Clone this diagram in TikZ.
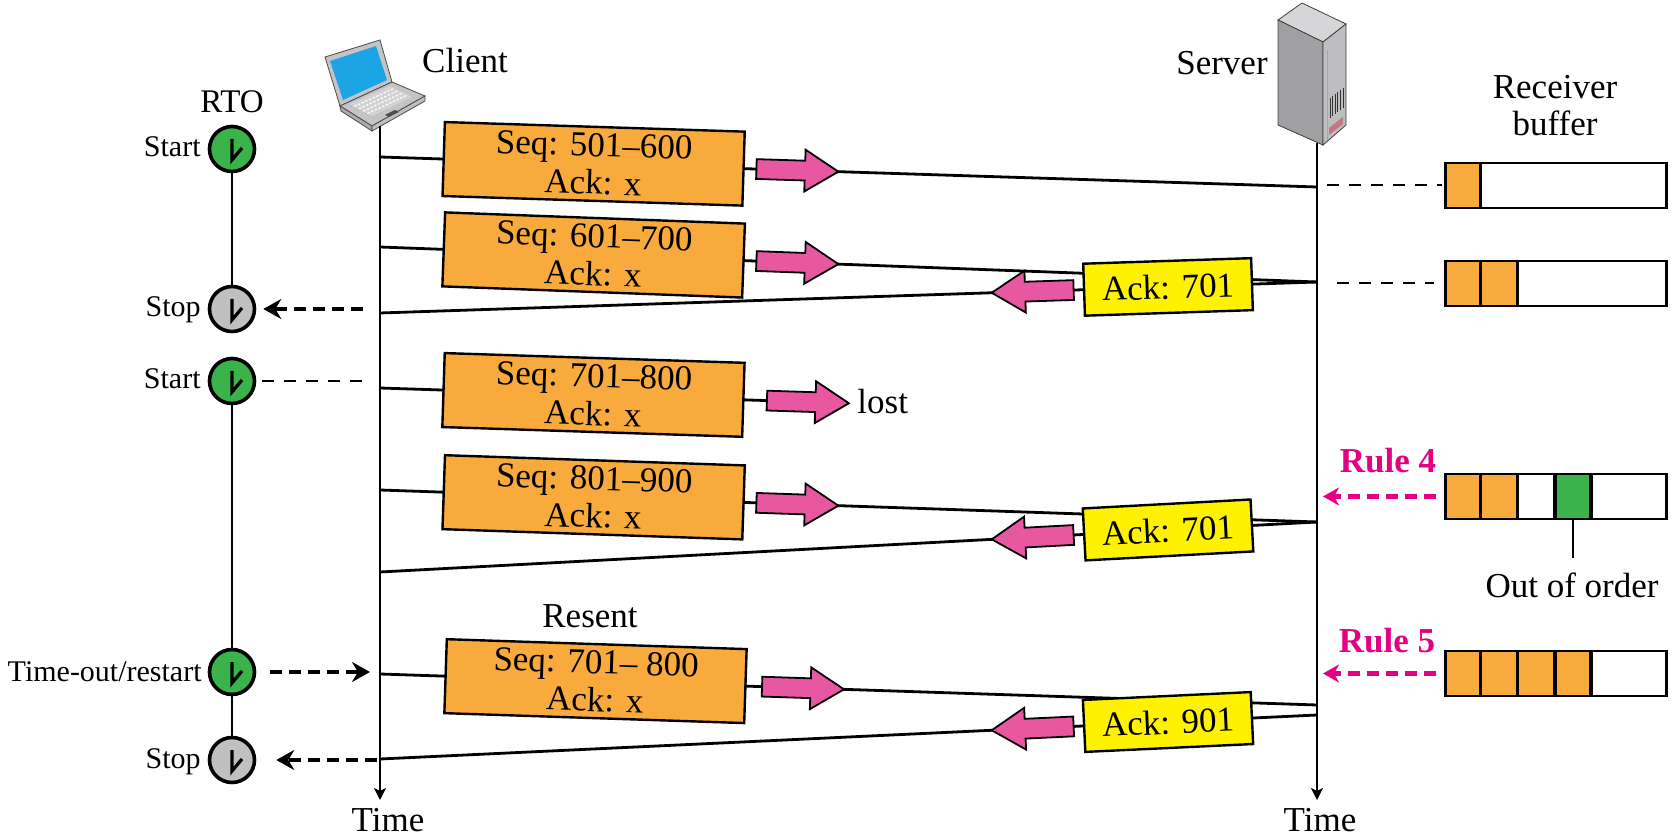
\documentclass[tikz,border=0pt]{standalone}
\usepackage{fontspec}
\setmainfont{Liberation Serif}
\usetikzlibrary{arrows.meta,shapes.arrows,calc}

\definecolor{segorange}{RGB}{248,170,60}
\definecolor{ackyellow}{RGB}{255,242,0}
\definecolor{arrowpink}{RGB}{232,88,162}
\definecolor{rulemag}{RGB}{228,0,130}
\definecolor{clockgreen}{RGB}{58,180,74}
\definecolor{clockgray}{RGB}{192,192,194}
\definecolor{screenblue}{RGB}{28,165,228}
\definecolor{lapgray}{RGB}{196,196,198}
\definecolor{srvtop}{RGB}{214,214,216}
\definecolor{srvside}{RGB}{160,160,163}
\definecolor{srvfront}{RGB}{190,190,192}
\definecolor{srvred}{RGB}{196,120,132}

\newcommand\bigtext{\fontsize{17.5}{19}\selectfont}
\newcommand\midtext{\fontsize{16.5}{18}\selectfont}
\newcommand\smalltext{\fontsize{15}{17}\selectfont}

\begin{document}
\begin{tikzpicture}[x=0.5pt,y=-0.5pt,
  wire/.style={line width=1.4pt},
  timeline/.style={line width=1.4pt,-{Stealth[length=6pt,width=6pt,inset=1.5pt]}},
  databox/.style={draw,line width=1.2pt,fill=segorange,minimum width=150pt,
    minimum height=37pt,align=center,inner sep=0pt,font=\bigtext},
  ackbox/.style={draw,line width=1.2pt,fill=ackyellow,minimum width=84pt,
    minimum height=26pt,inner sep=0pt,font=\bigtext},
  pinkarrow/.style={single arrow,draw,line width=0.9pt,fill=arrowpink,
    minimum height=41pt,single arrow head extend=5.5pt,
    single arrow tip angle=64,inner sep=0pt,inner ysep=4.5pt},
  clockhands/.style={path picture={
    \draw[line width=1.6pt,line join=miter]
      ($(path picture bounding box.center)+(0pt,5pt)$) --
      ($(path picture bounding box.center)+(0pt,-5.5pt)$) --
      ($(path picture bounding box.center)+(5pt,0.5pt)$);}},
  clock/.style={circle,draw,line width=1.8pt,minimum size=22.5pt,inner sep=0pt,clockhands},
  startclock/.style={clock,fill=clockgreen},
  stopclock/.style={clock,fill=clockgray},
  timerarrow/.style={line width=2.4pt,dash pattern=on 6pt off 3.5pt,
    -{Stealth[length=9pt,width=10pt,inset=3pt]}},
  rulearrow/.style={rulemag,line width=2.2pt,dash pattern=on 6pt off 3.5pt,
    -{Stealth[length=8pt,width=9pt,inset=2.5pt]}},
  thindash/.style={line width=1pt,dash pattern=on 6pt off 5pt},
  label/.style={font=\bigtext,inner sep=0pt},
  smalllabel/.style={font=\smalltext,inner sep=0pt},
  rulelabel/.style={font=\bigtext\bfseries,text=rulemag,inner sep=0pt},
  bufbox/.style={draw,line width=1.4pt,minimum width=110.5pt,minimum height=22.5pt,
    inner sep=0pt,anchor=west},
  cellline/.style={line width=1.4pt}
]
\useasboundingbox (0,0) rectangle (1671,839);

% ---------- laptop (client) ----------
\filldraw[fill=lapgray,draw=gray!60!black,line width=0.4pt]
  (325,57) -- (380,40) -- (392,82) -- (340,106) -- cycle;
\fill[screenblue] (330,61) -- (376,46) -- (387,80) -- (343,100) -- cycle;
\filldraw[fill=lapgray,draw=gray!60!black,line width=0.4pt]
  (340,106) -- (392,82) -- (425,96) -- (372,126) -- cycle;
\filldraw[fill=gray!65,draw=gray!60!black,line width=0.4pt]
  (340,106) -- (372,126) -- (372,131) -- (341,111) -- cycle;
\filldraw[fill=gray!50,draw=gray!60!black,line width=0.4pt]
  (372,126) -- (425,96) -- (425,101) -- (372,131) -- cycle;
\fill[gray!35] (350,104) -- (390,86) -- (412,97) -- (372,116) -- cycle;
\foreach \t in {0.2,0.4,0.6,0.8}
  \draw[white,line width=0.6pt,dash pattern=on 1.2pt off 0.8pt]
    ($(350,104)!\t!(372,116)$) -- ($(390,86)!\t!(412,97)$);
\fill[gray!60!black] (385,115) -- (395,110) -- (399,112) -- (389,117) -- cycle;

% ---------- server tower ----------
\filldraw[fill=srvtop,draw=gray!50!black,line width=0.4pt]
  (1278,20) -- (1302,3) -- (1346,24) -- (1323,42) -- cycle;
\filldraw[fill=srvside,draw=gray!50!black,line width=0.4pt]
  (1278,20) -- (1323,42) -- (1323,145) -- (1278,125) -- cycle;
\filldraw[fill=srvfront,draw=gray!50!black,line width=0.4pt]
  (1323,42) -- (1346,24) -- (1346,125) -- (1323,145) -- cycle;
\draw[gray!70,line width=0.5pt] (1327,50) -- (1327,140);
\foreach \k in {0,...,5}
  \draw[gray!40!black,line width=0.5pt]
    (1330+2.6*\k,{98-2*\k}) -- (1330+2.6*\k,{118-2*\k});
\fill[srvred] (1329,128) -- (1343,117) -- (1343,124) -- (1329,135) -- cycle;

% ---------- labels at the top ----------
\node[label,anchor=base] (client) at (465,73) {Client};
\node[label,anchor=base] (server) at (1222,75) {Server};
\node[font=\midtext,inner sep=0pt,anchor=base] (rto) at (232,113) {RTO};
\node[label,anchor=base] (recv) at (1555,99) {Receiver};
\node[label,anchor=base] (buflabel) at (1555,136) {buffer};

% ---------- time lines ----------
\coordinate (cltop) at (380,126);
\coordinate (clbot) at (380,800);
\coordinate (svtop) at (1317,143);
\coordinate (svbot) at (1317,800);
\draw[timeline] (cltop) -- (clbot);
\draw[timeline] (svtop) -- (svbot);
\node[label,anchor=base] (cltime) at (388,831) {Time};
\node[label,anchor=base] (svtime) at (1320,831) {Time};

% ---------- end points on the time lines ----------
\coordinate (cl1) at (380,157);  \coordinate (sv1) at (1317,187);
\coordinate (cl2) at (380,247);  \coordinate (sv2) at (1317,282);
\coordinate (cl3) at (380,313);
\coordinate (cl4) at (380,388);  \coordinate (lostend) at (841,403);
\coordinate (cl5) at (380,490);  \coordinate (sv5) at (1317,522);
\coordinate (cl6) at (380,572);
\coordinate (cl7) at (380,674);  \coordinate (sv7) at (1317,705);
\coordinate (sv8) at (1317,715); \coordinate (cl8) at (380,759);

% ---------- segments ----------
\draw[wire] (cl1) -- (sv1)
  node[databox,pos=0.228,sloped] (seg1) {Seq: 501--600\\Ack: x}
  node[pinkarrow,pos=0.437,sloped] (arr1) {};
\draw[wire] (cl2) -- (sv2)
  node[databox,pos=0.228,sloped] (seg2) {Seq: 601--700\\Ack: x}
  node[pinkarrow,pos=0.437,sloped] (arr2) {};
\draw[wire] (sv2) -- (cl3)
  node[ackbox,pos=0.159,sloped] (ack1) {Ack: 701}
  node[pinkarrow,pos=0.295,sloped,allow upside down] (arr3) {};
\draw[wire] (cl4) -- (lostend)
  node[databox,pos=0.463,sloped] (seg3) {Seq: 701--800\\Ack: x}
  node[pinkarrow,pos=0.911,sloped] (arr4) {};
\node[label,anchor=west] (lost) at (857,402) {lost};
\draw[wire] (cl5) -- (sv5)
  node[databox,pos=0.228,sloped] (seg4) {Seq: 801--900\\Ack: x}
  node[pinkarrow,pos=0.437,sloped] (arr5) {};
\draw[wire] (sv5) -- (cl6)
  node[ackbox,pos=0.159,sloped] (ack2) {Ack: 701}
  node[pinkarrow,pos=0.295,sloped,allow upside down] (arr6) {};
\node[label,anchor=base] (resent) at (590,627) {Resent};
\draw[wire] (cl7) -- (sv7)
  node[databox,pos=0.230,sloped] (seg5) {Seq: 701-- 800\\Ack: x}
  node[pinkarrow,pos=0.443,sloped] (arr7) {};
\draw[wire] (sv8) -- (cl8)
  node[ackbox,pos=0.159,sloped] (ack3) {Ack: 901}
  node[pinkarrow,pos=0.295,sloped,allow upside down] (arr8) {};

% ---------- RTO timer ----------
\node[startclock] (start1) at (232,149) {};
\node[stopclock]  (stop1)  at (232,309) {};
\node[startclock] (start2) at (232,381) {};
\node[startclock] (restart) at (232,672) {};
\node[stopclock]  (stop2)  at (232,760) {};
\draw[line width=1pt] (start1) -- (stop1);
\draw[line width=1pt] (start2) -- (restart) -- (stop2);

\node[smalllabel,anchor=base east] (lstart1) at (201,157) {Start};
\node[smalllabel,anchor=base east] (lstop1) at (201,317) {Stop};
\node[smalllabel,anchor=base east] (lstart2) at (201,389) {Start};
\node[smalllabel,anchor=base east] (lrestart) at (202,681) {Time-out/restart};
\node[smalllabel,anchor=base east] (lstop2) at (201,768) {Stop};

\draw[timerarrow,shorten <=8.5pt,shorten >=3.5pt] (stop1 -| cl3) -- (stop1);
\draw[thindash,shorten <=3pt,shorten >=6pt] (start2) -- (start2 -| cl4);
\draw[timerarrow,shorten <=7pt,shorten >=5pt] (restart) -- (restart -| cl7);
\draw[timerarrow,shorten <=1.5pt,shorten >=10pt] (stop2 -| cl8) -- (stop2);

% ---------- receiver buffers ----------
% cells are 36.83 units wide, six per buffer
\fill[segorange] (1444,163) rectangle ++(36.83,45);
\node[bufbox] (buf1) at (1444,185.5) {};
\draw[cellline] (1480.83,163) -- (1480.83,208);

\fill[segorange] (1444,261) rectangle ++(73.66,45);
\node[bufbox] (buf2) at (1444,283.5) {};
\foreach \k in {1,2}
  \draw[cellline] (1444+36.83*\k,261) -- (1444+36.83*\k,306);

\fill[segorange] (1444,474) rectangle ++(73.66,45);
\fill[clockgreen] (1554.49,474) rectangle ++(36.83,45);
\node[bufbox] (buf3) at (1444,496.5) {};
\foreach \k in {1,2}
  \draw[cellline] (1444+36.83*\k,474) -- (1444+36.83*\k,519);
\foreach \k in {3,4}
  \draw[line width=2pt] (1444+36.83*\k,474) -- (1444+36.83*\k,519);

\fill[segorange] (1444,651) rectangle ++(147.32,45);
\node[bufbox] (buf4) at (1444,673.5) {};
\foreach \k in {1,2}
  \draw[cellline] (1444+36.83*\k,651) -- (1444+36.83*\k,696);
\foreach \k in {3,4}
  \draw[line width=2pt] (1444+36.83*\k,651) -- (1444+36.83*\k,696);

\draw[thindash,shorten <=5pt,shorten >=1pt] (buf1.west -| sv1) -- (buf1.west);
\draw[thindash,shorten <=10pt,shorten >=5pt] (buf2.west -| sv2) -- (buf2.west);

\draw[rulearrow,shorten <=4pt,shorten >=3pt] (buf3.west) -- (buf3.west -| sv5);
\draw[rulearrow,shorten <=4pt,shorten >=3pt] (buf4.west) -- (buf4.west -| sv7);
\node[rulelabel,anchor=base] (rule4) at (1388,473) {Rule 4};
\node[rulelabel,anchor=base] (rule5) at (1387,652) {Rule 5};

\coordinate (greencell) at (1572.9,519);
\coordinate (oootop) at (1572.9,558);
\draw[wire] (greencell) -- (oootop);
\node[label,anchor=base] (ooo) at (1572,597) {Out of order};
\end{tikzpicture}
\end{document}
